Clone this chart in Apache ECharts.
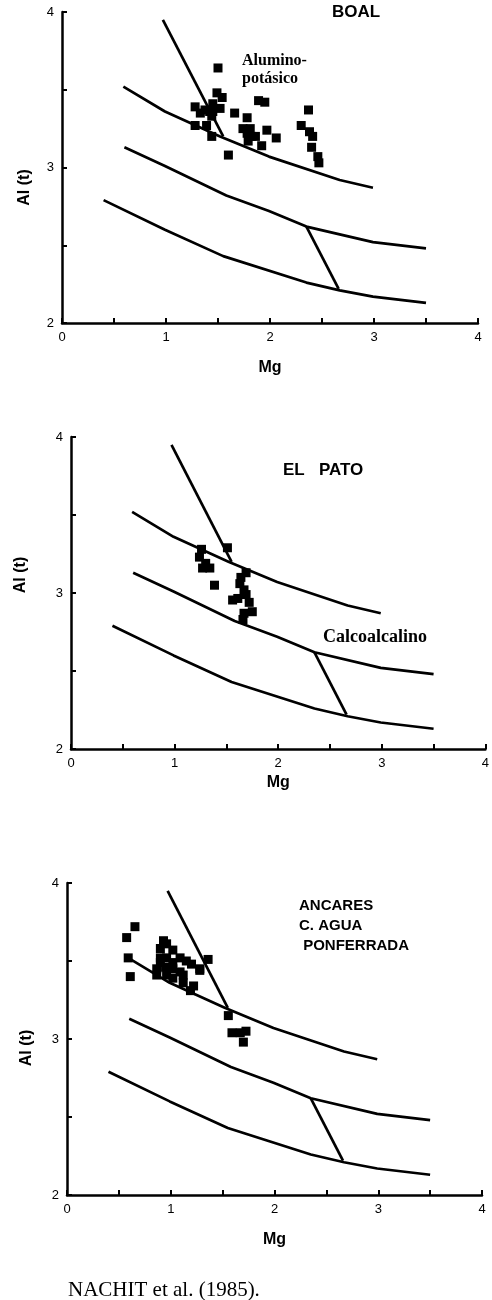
<!DOCTYPE html>
<html><head><meta charset="utf-8">
<script src="https://cdn.jsdelivr.net/npm/echarts@6/dist/echarts.min.js"></script>
<style>html,body{margin:0;padding:0;background:#fff}#c{width:492px;height:1300px}</style>
</head><body><div id="c"></div>
<script>
// Boundary curves (Mg, Al(t)) shared by the three diagrams
var upperCurve = [[0.59,3.52],[0.99,3.36],[1.52,3.20],[1.99,3.07],[2.67,2.92],[2.99,2.87]];
var middleCurve = [[0.60,3.13],[0.99,3.01],[1.58,2.82],[1.99,2.72],[2.35,2.62],[2.99,2.52],[3.50,2.48]];
var lowerCurve = [[0.40,2.79],[0.99,2.60],[1.55,2.43],[2.35,2.26],[2.67,2.21],[2.99,2.17],[3.50,2.13]];
var steepLine = [[0.97,3.95],[1.55,3.20]];
var cutLine = [[2.35,2.62],[2.66,2.22]];

// Samples
var boalPoints = [[1.50,3.64],[1.49,3.48],[1.54,3.45],[1.52,3.38],[1.45,3.36],[1.375,3.37],[1.33,3.35],[1.45,3.41],
  [1.28,3.39],[1.28,3.27],[1.39,3.27],[1.44,3.20],[1.44,3.33],[1.42,3.36],[1.60,3.08],[1.66,3.35],[1.78,3.32],[1.74,3.25],
  [1.81,3.25],[1.78,3.22],[1.97,3.24],[2.06,3.19],[1.92,3.14],[1.82,3.20],[1.86,3.20],[1.89,3.43],[1.95,3.42],[1.79,3.17],
  [2.37,3.37],[2.30,3.27],[2.38,3.23],[2.41,3.20],[2.40,3.13],[2.46,3.07],[2.47,3.03]];
var patoPoints = [[1.51,3.29],[1.26,3.28],[1.24,3.23],[1.30,3.19],[1.34,3.16],[1.27,3.16],[1.385,3.05],[1.69,3.13],
  [1.64,3.10],[1.63,3.06],[1.67,3.02],[1.69,2.99],[1.56,2.955],[1.61,2.965],[1.72,2.94],[1.75,2.88],[1.67,2.87],[1.66,2.83]];
var ancaresPoints = [[0.655,3.72],[0.575,3.65],[0.59,3.52],[0.61,3.40],[0.93,3.63],[0.90,3.58],[0.96,3.61],[1.02,3.57],
  [0.90,3.52],[0.96,3.52],[1.09,3.52],[1.15,3.50],[1.20,3.48],[1.28,3.45],[1.36,3.51],[0.865,3.45],[0.95,3.46],[1.02,3.45],
  [1.09,3.43],[0.865,3.41],[0.96,3.41],[1.02,3.39],[1.12,3.41],[1.12,3.36],[1.22,3.34],[1.19,3.31],[1.28,3.44],[1.02,3.49],
  [0.90,3.49],[1.555,3.15],[1.59,3.04],[1.67,3.04],[1.725,3.05],[1.70,2.98]];

var xTickLabels = ['0','1','2','3','4'];
var yTickLabels = ['2','3','4'];
var xName = 'Mg', yName = 'Al (t)';

var grids = [
  {left:62, top:12, width:416, height:311},
  {left:71, top:437, width:416, height:312},
  {left:67, top:883, width:415, height:312}
];
var xNameGaps = [37, 26, 37];
var yNameGaps = [29, 42, 32];
var yNamePads = [[0,40,0,0],[0,0,0,36],[0,18,0,0]];
var sets = [boalPoints, patoPoints, ancaresPoints];
var sans = 'Liberation Sans, Arial, sans-serif';
var serif = 'Liberation Serif, Times New Roman, serif';

var xAxes = [], yAxes = [], series = [];
grids.forEach(function(g, i){
  xAxes.push({gridIndex:i, type:'value', min:0, max:4, interval:0.5,
    name:xName, nameLocation:'middle', nameGap:xNameGaps[i],
    nameTextStyle:{fontFamily:sans, fontSize:16, color:'#000', fontWeight:'bold'},
    axisLine:{lineStyle:{color:'#000', width:2.5}},
    axisTick:{inside:true, length:5, lineStyle:{color:'#000', width:2}},
    axisLabel:{margin:8, fontFamily:sans, fontSize:13, color:'#000',
      formatter:function(v){ return (v % 1 === 0) ? xTickLabels[v] : ''; }},
    splitLine:{show:false}});
  yAxes.push({gridIndex:i, type:'value', min:2, max:4, interval:0.5,
    name:yName, nameLocation:'middle', nameGap:yNameGaps[i], nameRotate:90,
    nameTextStyle:{fontFamily:sans, fontSize:16, color:'#000', fontWeight:'bold', padding:yNamePads[i]},
    axisLine:{lineStyle:{color:'#000', width:2.5}},
    axisTick:{inside:true, length:5, lineStyle:{color:'#000', width:2}},
    axisLabel:{margin:8, fontFamily:sans, fontSize:13, color:'#000',
      formatter:function(v){ return (v % 1 === 0) ? yTickLabels[v-2] : ''; }},
    splitLine:{show:false}});
  [upperCurve, middleCurve, lowerCurve, steepLine, cutLine].forEach(function(c){
    series.push({type:'line', xAxisIndex:i, yAxisIndex:i, data:c, showSymbol:false, silent:true,
      lineStyle:{color:'#000', width:2.7}, animation:false});
  });
  series.push({type:'scatter', xAxisIndex:i, yAxisIndex:i, data:sets[i], symbol:'rect', symbolSize:9,
    itemStyle:{color:'#000', opacity:1}, animation:false, z:5});
});

var chart = echarts.init(document.getElementById('c'), null, {renderer:'canvas'});
chart.setOption({
  animation:false,
  grid:grids, xAxis:xAxes, yAxis:yAxes, series:series,
  graphic:[
    {type:'text', left:332, top:4, style:{text:'BOAL', font:'bold 17px '+sans, fill:'#000'}},
    {type:'text', left:242, top:52, style:{text:'Alumino-\npotásico', font:'bold 16px '+serif, fill:'#000', lineHeight:18}},
    {type:'text', left:283, top:462, style:{text:'EL   PATO', font:'bold 17px '+sans, fill:'#000'}},
    {type:'text', left:323, top:628, style:{text:'Calcoalcalino', font:'bold 18px '+serif, fill:'#000'}},
    {type:'text', left:299, top:896, style:{text:'ANCARES\nC. AGUA\n PONFERRADA', font:'bold 15px '+sans, fill:'#000', lineHeight:20}},
    {type:'text', left:68, top:1280, style:{text:'NACHIT et al. (1985).', font:'21px '+serif, fill:'#000'}}
  ]
});
</script></body></html>
